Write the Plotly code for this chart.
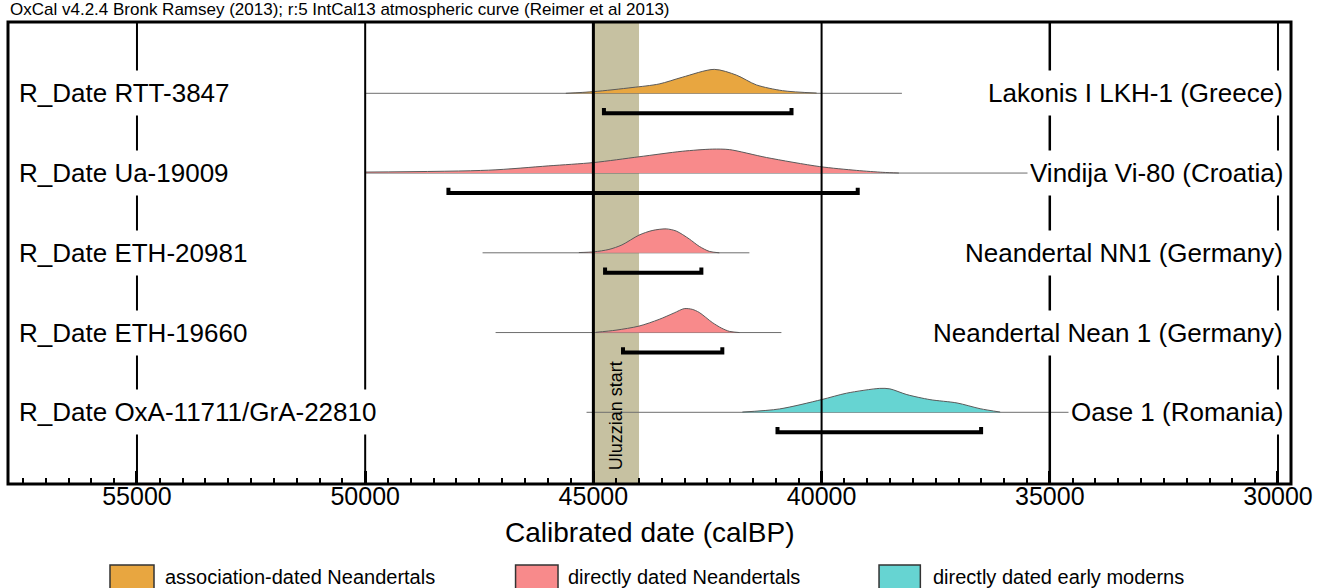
import plotly.graph_objects as go

# ---------------- data ----------------
left_labels = ["R_Date RTT-3847", "R_Date Ua-19009", "R_Date ETH-20981",
               "R_Date ETH-19660", "R_Date OxA-11711/GrA-22810"]
right_labels = ["Lakonis I LKH-1 (Greece)", "Vindija Vi-80 (Croatia)",
                "Neandertal NN1 (Germany)", "Neandertal Nean 1 (Germany)",
                "Oase 1 (Romania)"]
groups = ["assoc", "direct", "direct", "direct", "modern"]
rows = [5, 4, 3, 2, 1]

# probability distributions (calBP, relative density)
rtt_years = [45604, 44989, 44153, 43560, 43054, 42351, 41867, 41428, 40856, 40109]
rtt_dens = [0.0, 0.07, 0.24, 0.39, 0.67, 1.0, 0.76, 0.35, 0.11, 0.01]
ua_years = [50000, 47297, 45978, 44989, 44000, 43054, 42395, 42021, 41208, 40043, 39230, 38658, 38307]
ua_dens = [0.04, 0.12, 0.30, 0.44, 0.68, 0.91, 1.0, 0.98, 0.65, 0.27, 0.11, 0.03, 0.0]
eth1_years = [45318, 44989, 44659, 44374, 44000, 43714, 43406, 43186, 42901, 42681, 42461, 42241]
eth1_dens = [0.01, 0.04, 0.14, 0.33, 0.74, 0.93, 1.0, 0.91, 0.58, 0.27, 0.06, 0.0]
eth2_years = [44945, 44505, 44000, 43560, 43230, 43010, 42834, 42681, 42395, 42197, 42021, 41801]
eth2_dens = [0.01, 0.10, 0.27, 0.55, 0.82, 1.0, 0.97, 0.84, 0.42, 0.19, 0.05, 0.0]
oase_years = [41736, 40922, 40001, 39450, 38725, 38505, 38131, 37626, 37032, 36526, 36087]
oase_dens = [0.01, 0.14, 0.53, 0.80, 1.0, 0.98, 0.74, 0.53, 0.39, 0.15, 0.01]

dist_years = [rtt_years, ua_years, eth1_years, eth2_years, oase_years]
dist_dens = [rtt_dens, ua_dens, eth1_dens, eth2_dens, oase_dens]

# extent of the thin baseline for each date
line_start = [50000, 50000, 47428, 47143, 45150]
line_end = [38240, 35430, 41582, 40880, 34438]

# 95.4% ranges
range_lo = [44769, 48176, 44744, 44351, 40966]
range_hi = [40659, 39208, 42634, 42175, 36505]

uluzzian = [45000, 44000]
tick_vals = [55000, 50000, 45000, 40000, 35000, 30000]
tick_text = ["55000", "50000", "45000", "40000", "35000", "30000"]
x_range = [57826, 29715]

legend_names = ["association-dated Neandertals", "directly dated Neandertals",
                "directly dated early moderns"]
legend_groups = ["assoc", "direct", "modern"]

# ---------------- style ----------------
FONT = "Liberation Sans, Arial, Helvetica, sans-serif"
colors = {"assoc": "#E8A640", "direct": "#F88A8B", "modern": "#66D4D2"}
peak_h = 0.30
br_off = 0.25
br_tick = 0.065
vline_w = [2, 2, 3, 2, 2.5, 2]

fig = go.Figure()

for i, r in enumerate(rows):
    fig.add_trace(go.Scatter(x=[line_start[i], line_end[i]], y=[r, r], mode="lines",
                             line=dict(color="#6e6e6e", width=1), hoverinfo="skip",
                             showlegend=False))
    yrs = dist_years[i]
    fig.add_trace(go.Scatter(x=yrs, y=[r] * len(yrs), mode="lines",
                             line=dict(width=0, color="rgba(0,0,0,0)"),
                             hoverinfo="skip", showlegend=False))
    fig.add_trace(go.Scatter(x=yrs, y=[r + d * peak_h for d in dist_dens[i]],
                             mode="lines", fill="tonexty",
                             fillcolor=colors[groups[i]],
                             line=dict(color="#5a5a5a", width=1, shape="spline", smoothing=0.8),
                             hoverinfo="skip", showlegend=False))
    yb = r - br_off
    fig.add_trace(go.Scatter(x=[range_lo[i], range_lo[i], range_hi[i], range_hi[i]],
                             y=[yb + br_tick, yb, yb, yb + br_tick], mode="lines",
                             line=dict(color="black", width=4), hoverinfo="skip",
                             showlegend=False))

shapes = []
shapes.append(dict(type="rect", xref="x", yref="paper", x0=uluzzian[0], x1=uluzzian[1],
                   y0=0, y1=1, fillcolor="#C6C1A1", line=dict(width=0), layer="below"))
for xv, w in zip(tick_vals, vline_w):
    shapes.append(dict(type="line", xref="x", yref="paper", x0=xv, x1=xv, y0=0, y1=1,
                       line=dict(color="black", width=w), layer="above"))
shapes.append(dict(type="rect", xref="paper", yref="paper", x0=0, x1=1, y0=0, y1=1,
                   line=dict(color="black", width=3), layer="above"))

# legend boxes
box_x = [(0.0795, 0.1138), (0.3956, 0.4287), (0.6789, 0.7111)]
text_x = [0.1208, 0.4349, 0.7194]
for (x0, x1), g in zip(box_x, legend_groups):
    shapes.append(dict(type="rect", xref="paper", yref="paper", x0=x0, x1=x1,
                       y0=-0.1753, y1=-0.26, fillcolor=colors[g],
                       line=dict(color="#333333", width=1.5)))

annotations = []
for i, r in enumerate(rows):
    annotations.append(dict(xref="paper", yref="y", x=0.0062, y=r, text=left_labels[i],
                            xanchor="left", yanchor="middle", showarrow=False,
                            font=dict(family=FONT, size=26, color="black"),
                            bgcolor="white", height=40, borderpad=2))
    annotations.append(dict(xref="paper", yref="y", x=0.9961, y=r, text=right_labels[i],
                            xanchor="right", yanchor="middle", showarrow=False,
                            font=dict(family=FONT, size=26, color="black"),
                            bgcolor="white", height=40, borderpad=2))

annotations.append(dict(xref="paper", yref="paper", x=0, y=1.026,
                        text="OxCal v4.2.4 Bronk Ramsey (2013); r:5 IntCal13 atmospheric curve (Reimer et al 2013)",
                        xanchor="left", yanchor="middle", showarrow=False,
                        font=dict(family=FONT, size=17, color="black")))
annotations.append(dict(xref="paper", yref="paper", x=0.5, y=-0.106,
                        text="Calibrated date (calBP)", xanchor="center", yanchor="middle",
                        showarrow=False, font=dict(family=FONT, size=28, color="black")))
annotations.append(dict(xref="x", yref="y", x=sum(uluzzian) / 2, y=0.954,
                        text="Uluzzian start", textangle=-90, xanchor="center",
                        yanchor="middle", showarrow=False,
                        font=dict(family=FONT, size=18, color="black")))
for tx, name in zip(text_x, legend_names):
    annotations.append(dict(xref="paper", yref="paper", x=tx, y=-0.2013, text=name,
                            xanchor="left", yanchor="middle", showarrow=False,
                            font=dict(family=FONT, size=20, color="black")))

fig.update_layout(
    width=1323, height=588,
    margin=dict(l=8, r=32, t=22, b=104),
    paper_bgcolor="white", plot_bgcolor="white",
    showlegend=False,
    shapes=shapes, annotations=annotations,
    xaxis=dict(range=x_range, tickvals=tick_vals, ticktext=tick_text,
               ticks="inside", ticklen=13, tickwidth=3, tickcolor="black",
               minor=dict(ticks="inside", dtick=500, ticklen=6, tickwidth=1.5,
                          tickcolor="black", showgrid=False),
               showgrid=False, zeroline=False, showline=False,
               tickfont=dict(family=FONT, size=25, color="black")),
    yaxis=dict(range=[0.101, 5.894], visible=False, showgrid=False, zeroline=False),
)
try:
    fig.update_xaxes(ticklabelstandoff=-5)
except Exception:
    pass

fig.write_html("out.html", config={"displayModeBar": False},
               post_script="document.body.style.margin='0';document.body.style.overflow='hidden';")
